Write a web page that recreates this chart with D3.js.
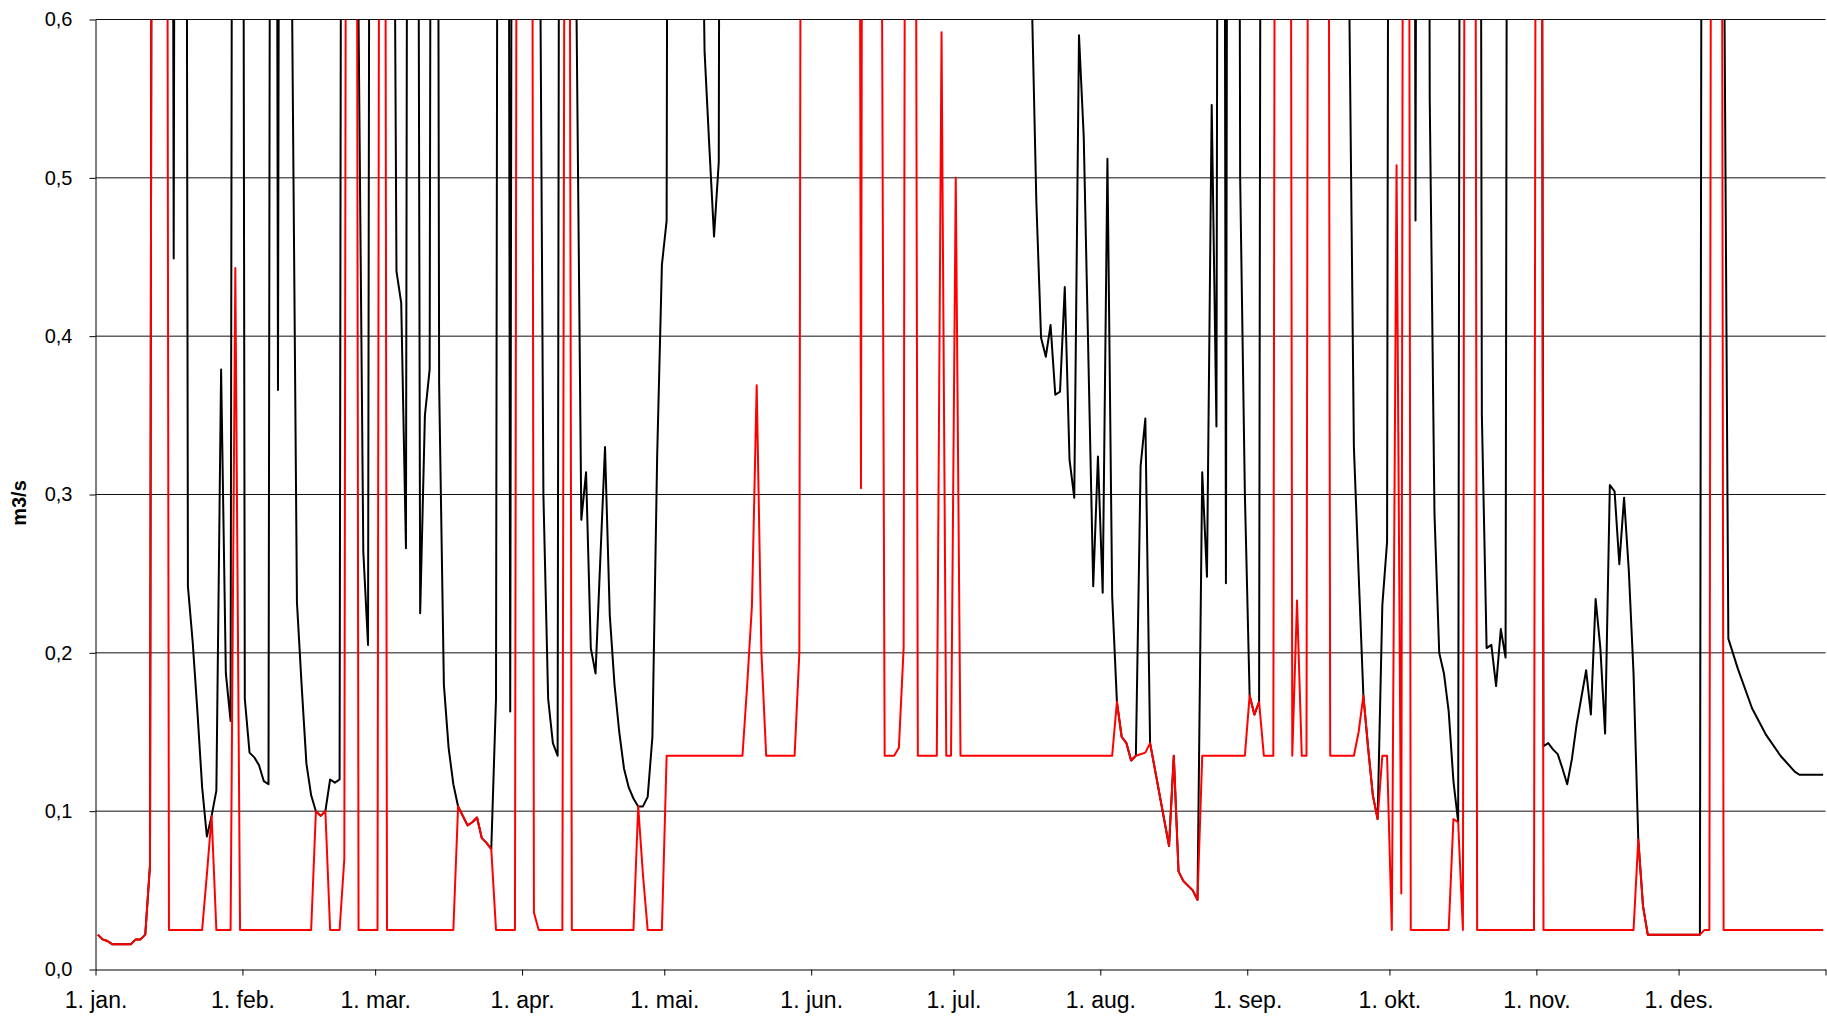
<!DOCTYPE html>
<html>
<head>
<meta charset="utf-8">
<script src="https://cdn.jsdelivr.net/npm/d3@7"></script>
<style>
  body { margin: 0; background: #fff; }
  text { font-family: "Liberation Sans", Arial, sans-serif; fill: #000; }
</style>
</head>
<body>
<script>
// month starts (day of year) and their labels
const monthDays = [0, 31, 59, 90, 120, 151, 181, 212, 243, 273, 304, 334, 365];
const monthLabels = ["1. jan.", "1. feb.", "1. mar.", "1. apr.", "1. mai.", "1. jun.",
  "1. jul.", "1. aug.", "1. sep.", "1. okt.", "1. nov.", "1. des."];
const yTicks = [0, 0.1, 0.2, 0.3, 0.4, 0.5, 0.6];

// [day index, m3/s], values above 0.6 run off the chart
const blackSeries = [
  [0,0.022],[1,0.019],[2,0.018],[3,0.016],[7,0.016],[8,0.019],[9,0.019],[10,0.022],[11,0.066],
  [12,2.0],[15,2.0],[16,0.449],[17,2.0],[18,2.0],[19,0.242],[20,0.207],[21,0.163],[22,0.115],
  [23,0.084],[24,0.097],[25,0.113],[26,0.379],[27,0.187],[28,0.157],[29,2.0],[30,2.0],[31,0.171],
  [32,0.137],[33,0.134],[34,0.129],[35,0.119],[36,0.117],[37,2.0],[38,0.366],[39,2.0],[40,2.0],
  [41,0.6],[42,0.232],[43,0.179],[44,0.13],[45,0.11],[46,0.1],[47,0.097],[48,0.1],[49,0.12],
  [50,0.118],[51,0.12],[52,2.0],[54,2.0],[55,0.6],[56,0.264],[57,0.205],[58,2.0],[62,1.0],
  [63,0.441],[64,0.421],[65,0.266],[66,2.0],[67,1.5],[68,0.225],[69,0.35],[70,0.379],[71,2.0],
  [72,0.37],[73,0.18],[74,0.14],[75,0.117],[76,0.103],[77,0.097],[78,0.091],[79,0.093],[80,0.096],
  [81,0.083],[82,0.08],[83,0.076],[84,0.171],[85,2.0],[86,2.0],[87,0.163],[88,2.0],[92,2.0],
  [93,0.8],[94,0.3],[95,0.171],[96,0.143],[97,0.135],[98,2.0],[100,2.0],[101,0.6],[102,0.284],
  [103,0.314],[104,0.203],[105,0.187],[107,0.33],[108,0.224],[109,0.18],[110,0.15],[111,0.127],
  [112,0.115],[113,0.108],[114,0.103],[115,0.103],[116,0.109],[117,0.147],[118,0.324],[119,0.445],
  [120,0.473],[121,2.0],[126,2.0],[127,0.8],[128,0.58],[129,0.52],[130,0.463],[131,0.51],[132,2.0],
  [195,2.0],[196,1.2],[197,0.62],[198,0.485],[199,0.399],[200,0.387],[201,0.407],[202,0.363],
  [203,0.365],[204,0.431],[205,0.322],[206,0.298],[207,0.59],[208,0.526],[210,0.242],[211,0.324],
  [212,0.238],[213,0.512],[214,0.236],[215,0.169],[216,0.147],[217,0.143],[218,0.132],[219,0.135],
  [220,0.318],[221,0.348],[222,0.143],[226,0.078],[227,0.135],[228,0.062],[229,0.056],[230,0.053],
  [231,0.05],[232,0.044],[233,0.314],[234,0.248],[235,0.546],[236,0.343],[237,2.0],[238,0.244],
  [239,2.0],[240,2.0],[241,0.5],[242,0.3],[243,0.173],[244,0.161],[245,0.169],[246,2.0],[263,2.0],
  [264,0.62],[265,0.33],[266,0.25],[267,0.173],[268,0.14],[269,0.11],[270,0.095],[271,0.23],
  [272,0.27],[273,2.0],[277,2.0],[278,0.473],[279,2.0],[280,2.0],[281,0.55],[282,0.288],[283,0.2],
  [284,0.187],[285,0.163],[286,0.119],[287,0.093],[288,2.0],[291,2.0],[292,0.35],[293,0.203],
  [294,0.205],[295,0.179],[296,0.215],[297,0.197],[298,2.0],[304,2.0],[305,0.141],[306,0.143],
  [307,0.139],[308,0.136],[309,0.127],[310,0.117],[311,0.133],[312,0.155],[314,0.189],[315,0.161],
  [316,0.234],[317,0.203],[318,0.149],[319,0.306],[320,0.302],[321,0.256],[322,0.298],[323,0.252],
  [324,0.187],[325,0.082],[326,0.04],[327,0.022],[338,0.022],[339,2.0],[342,2.0],[343,0.7],
  [344,0.209],[346,0.19],[349,0.165],[352,0.148],[355,0.135],[358,0.125],[359,0.123],[364,0.123]
];

const redSeries = [
  [0,0.022],[1,0.019],[2,0.018],[3,0.016],[7,0.016],[8,0.019],[9,0.019],[10,0.022],[11,0.066],
  [12,2.0],[14,2.0],[15,0.025],[22,0.025],[23,0.06],[24,0.097],[25,0.025],[28,0.025],[29,0.443],
  [30,0.025],[45,0.025],[46,0.1],[47,0.097],[48,0.1],[49,0.025],[51,0.025],[52,0.07],[53,2.0],
  [54,2.0],[55,0.025],[59,0.025],[60,2.0],[61,0.025],[75,0.025],[76,0.103],[77,0.097],[78,0.091],
  [79,0.093],[80,0.096],[81,0.083],[82,0.08],[83,0.076],[84,0.025],[88,0.025],[89,2.0],[91,2.0],
  [92,0.036],[93,0.025],[98,0.025],[99,1.5],[100,0.025],[113,0.025],[114,0.103],[115,0.06],
  [116,0.025],[119,0.025],[120,0.135],[136,0.135],[137,0.18],[138,0.23],[139,0.369],[140,0.2],
  [141,0.135],[147,0.135],[148,0.2],[149,2.0],[160,2.0],[161,0.304],[162,2.0],[165,1.0],[166,0.135],
  [168,0.135],[169,0.14],[170,0.203],[171,2.0],[172,1.5],[173,0.135],[177,0.135],[178,0.592],
  [179,0.135],[180,0.135],[181,0.5],[182,0.135],[214,0.135],[215,0.169],[216,0.147],[217,0.143],
  [218,0.132],[219,0.135],[221,0.137],[222,0.143],[226,0.078],[227,0.135],[228,0.062],[229,0.056],
  [230,0.053],[231,0.05],[232,0.044],[233,0.135],[242,0.135],[243,0.173],[244,0.161],[245,0.169],
  [246,0.135],[248,0.135],[249,2.0],[251,2.0],[252,0.135],[253,0.233],[254,0.135],[255,0.135],
  [256,2.0],[259,2.0],[260,0.135],[265,0.135],[266,0.15],[267,0.173],[268,0.14],[269,0.11],
  [270,0.095],[271,0.135],[272,0.135],[273,0.025],[274,0.508],[275,0.048],[276,2.0],[277,0.025],
  [285,0.025],[286,0.095],[287,0.093],[288,0.025],[289,2.0],[290,2.0],[291,0.025],[303,0.025],
  [304,2.0],[305,0.025],[324,0.025],[325,0.082],[326,0.04],[327,0.022],[338,0.022],[339,0.025],
  [340,0.025],[341,2.0],[342,2.0],[343,0.025],[364,0.025]
];

const width = 1827, height = 1018;
const plotLeft = 95.5, plotRight = 1825.5, plotTop = 19.5, plotBottom = 969.5;

const svg = d3.select('body').append('svg')
    .attr('width', width)
    .attr('height', height);

svg.append('rect').attr('width', width).attr('height', height).attr('fill', '#fff');

const x = d3.scaleLinear().domain([0, 365]).range([plotLeft, plotRight]);
const y = d3.scaleLinear().domain([0, 0.6]).range([plotBottom, plotTop]);

// horizontal gridlines
svg.append('g')
    .selectAll('line')
    .data(yTicks.slice(1))
    .enter().append('line')
    .attr('x1', plotLeft).attr('x2', plotRight)
    .attr('y1', (d) => y(d)).attr('y2', (d) => y(d))
    .attr('stroke', '#111')
    .attr('stroke-width', 1);

const fmt = (d) => d3.format('.1f')(d).replace('.', ',');

const yAxis = svg.append('g')
    .attr('transform', `translate(${plotLeft},0)`)
    .call(d3.axisLeft(y).tickValues(yTicks).tickSize(6).tickSizeOuter(0).tickPadding(17).tickFormat(fmt));

const xAxis = svg.append('g')
    .attr('transform', `translate(0,${plotBottom})`)
    .call(d3.axisBottom(x).tickValues(monthDays).tickSize(6).tickSizeOuter(0).tickPadding(16)
        .tickFormat((d, i) => monthLabels[i] || ''));

[yAxis, xAxis].forEach((g) => {
    g.selectAll('path, line').attr('stroke', '#000').attr('stroke-width', 1);
});
yAxis.selectAll('text').style('font-size', '20px').attr('fill', '#000');
xAxis.selectAll('text').style('font-size', '23px').attr('fill', '#000');

svg.append('text')
    .attr('transform', 'translate(26,503) rotate(-90)')
    .attr('text-anchor', 'middle')
    .style('font-size', '20px')
    .style('font-weight', 'bold')
    .text('m3/s');

svg.append('clipPath').attr('id', 'plot-clip')
  .append('rect')
    .attr('x', plotLeft).attr('y', plotTop)
    .attr('width', plotRight - plotLeft).attr('height', plotBottom - plotTop);

// points sit in the middle of each day
const line = d3.line()
    .x((d) => x(d[0] + 0.5))
    .y((d) => y(d[1]));

const plot = svg.append('g').attr('clip-path', 'url(#plot-clip)');

plot.append('path')
    .datum(blackSeries)
    .attr('d', line)
    .attr('fill', 'none')
    .attr('stroke', '#000')
    .attr('stroke-width', 2)
    .attr('stroke-linejoin', 'round');

plot.append('path')
    .datum(redSeries)
    .attr('d', line)
    .attr('fill', 'none')
    .attr('stroke', '#ff0000')
    .attr('stroke-width', 2)
    .attr('stroke-linejoin', 'round');
</script>
</body>
</html>
